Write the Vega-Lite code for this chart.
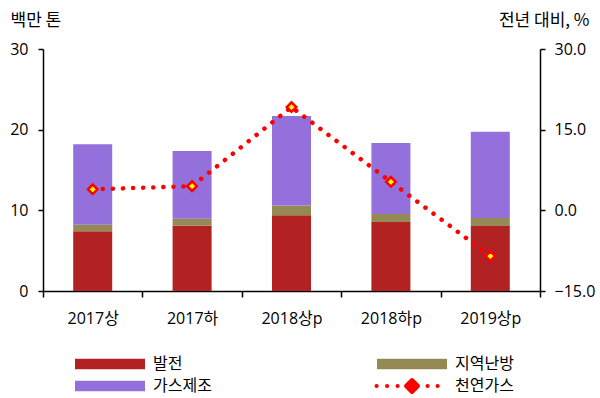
{
  "$schema": "https://vega.github.io/schema/vega-lite/v6.json",
  "width": 497,
  "height": 242,
  "autosize": {"type": "none"},
  "padding": {"left": 43, "top": 49, "right": 60, "bottom": 107},
  "config": {
    "font": "Open Sans, Noto Sans CJK KR",
    "view": {"stroke": null},
    "axis": {
      "domainColor": "#000000",
      "tickColor": "#000000",
      "labelColor": "#000000",
      "titleColor": "#000000",
      "grid": false,
      "labelFont": "Open Sans, Noto Sans CJK KR",
      "titleFont": "Noto Sans CJK KR",
      "titleFontWeight": "normal"
    },
    "legend": {"labelColor": "#000000"}
  },
  "datasets": {
    "bars": [
      {"period": "2017상", "use": "발전", "ord": 1, "value": 7.4},
      {"period": "2017상", "use": "지역난방", "ord": 2, "value": 0.8},
      {"period": "2017상", "use": "가스제조", "ord": 3, "value": 10.0},
      {"period": "2017하", "use": "발전", "ord": 1, "value": 8.1},
      {"period": "2017하", "use": "지역난방", "ord": 2, "value": 0.85},
      {"period": "2017하", "use": "가스제조", "ord": 3, "value": 8.4},
      {"period": "2018상p", "use": "발전", "ord": 1, "value": 9.4},
      {"period": "2018상p", "use": "지역난방", "ord": 2, "value": 1.2},
      {"period": "2018상p", "use": "가스제조", "ord": 3, "value": 11.1},
      {"period": "2018하p", "use": "발전", "ord": 1, "value": 8.55},
      {"period": "2018하p", "use": "지역난방", "ord": 2, "value": 1.0},
      {"period": "2018하p", "use": "가스제조", "ord": 3, "value": 8.8},
      {"period": "2019상p", "use": "발전", "ord": 1, "value": 8.05},
      {"period": "2019상p", "use": "지역난방", "ord": 2, "value": 1.0},
      {"period": "2019상p", "use": "가스제조", "ord": 3, "value": 10.7}
    ],
    "line": [
      {"period": "2017상", "yoy": 3.9},
      {"period": "2017하", "yoy": 4.5},
      {"period": "2018상p", "yoy": 19.2},
      {"period": "2018하p", "yoy": 5.3},
      {"period": "2019상p", "yoy": -8.5}
    ]
  },
  "layer": [
    {
      "data": {"name": "bars"},
      "mark": {"type": "bar", "width": 39},
      "encoding": {
        "x": {
          "field": "period",
          "type": "nominal",
          "sort": ["2017상", "2017하", "2018상p", "2018하p", "2019상p"],
          "scale": {"paddingInner": 0, "paddingOuter": 0},
          "axis": {
            "title": null,
            "labelAngle": 0,
            "tickBand": "extent",
            "tickSize": 6,
            "labelPadding": 13,
            "labelFontSize": 16,
            "domainWidth": 1.5,
            "tickWidth": 1.5
          }
        },
        "y": {
          "field": "value",
          "type": "quantitative",
          "stack": "zero",
          "scale": {"domain": [0, 30], "nice": false},
          "axis": {
            "values": [0, 10, 20, 30],
            "tickSize": 5,
            "labelPadding": 10,
            "labelFontSize": 16,
            "domainWidth": 1.5,
            "tickWidth": 1.5,
            "title": "백만 톤",
            "titleAngle": 0,
            "titleAlign": "left",
            "titleBaseline": "middle",
            "titleX": -33,
            "titleY": -29,
            "titleFontSize": 17
          }
        },
        "color": {
          "field": "use",
          "type": "nominal",
          "scale": {
            "domain": ["발전", "가스제조", "지역난방", "천연가스"],
            "range": ["#B22222", "#9370DB", "#948A54", "#FF0000"]
          },
          "legend": {
            "orient": "none",
            "legendX": 34,
            "legendY": 307,
            "title": null,
            "columns": 2,
            "columnPadding": 162,
            "rowPadding": 6,
            "padding": 0,
            "symbolSize": 400,
            "symbolOffset": 25,
            "labelOffset": 35,
            "labelAlign": "left",
            "labelFontSize": 16,
            "labelFont": "Noto Sans CJK KR",
            "labelColor": "#000000",
            "symbolType": "M-3.5,-0.52L3.5,-0.52L3.5,0.52L-3.5,0.52Z",
            "encoding": {
              "symbols": {
                "shape": {"value": {"expr": "datum.value === '천연가스' ? 'M-3.55,0L-3.53,0M-2.5,0L-2.48,0M-1.45,0L-1.43,0M1.55,0L1.57,0M2.55,0L2.57,0M0,-0.6L0.6,0L0,0.6L-0.6,0Z' : 'M-3.5,-0.52L3.5,-0.52L3.5,0.52L-3.5,0.52Z'"}},
                "fill": {"value": {"expr": "datum.value === '천연가스' ? '#FFFF00' : scale('color', datum.value)"}},
                "stroke": {"value": {"expr": "datum.value === '천연가스' ? '#FF0000' : 'transparent'"}},
                "strokeWidth": {"value": {"expr": "datum.value === '천연가스' ? 4 : 0"}},
                "strokeCap": {"value": "round"},
                "strokeJoin": {"value": "round"},
                "opacity": {"value": 1},
                "fillOpacity": {"value": 1}
              }
            }
          }
        },
        "order": {"field": "ord", "type": "quantitative"}
      }
    },
    {
      "data": {"name": "line"},
      "encoding": {
        "x": {
          "field": "period",
          "type": "nominal",
          "sort": ["2017상", "2017하", "2018상p", "2018하p", "2019상p"]
        },
        "y": {
          "field": "yoy",
          "type": "quantitative",
          "scale": {"domain": [-15, 30], "nice": false},
          "axis": {
            "orient": "right",
            "values": [-15, 0, 15, 30],
            "format": ".1f",
            "tickSize": 5,
            "labelPadding": 9,
            "labelFontSize": 16,
            "domainWidth": 1.5,
            "tickWidth": 1.5,
            "title": "전년 대비, %",
            "titleAngle": 0,
            "titleAlign": "right",
            "titleBaseline": "middle",
            "titleX": 49,
            "titleY": -29,
            "titleFontSize": 17
          }
        }
      },
      "layer": [
        {
          "mark": {
            "type": "line",
            "color": "#FF0000",
            "strokeWidth": 4.5,
            "strokeDash": [0.1, 10],
            "strokeCap": "round"
          }
        },
        {
          "mark": {
            "type": "point",
            "shape": "diamond",
            "filled": true,
            "fill": "#FFFF00",
            "stroke": "#FF0000",
            "strokeWidth": 2.5,
            "size": 90,
            "opacity": 1
          }
        }
      ]
    }
  ],
  "resolve": {"scale": {"y": "independent"}}
}
